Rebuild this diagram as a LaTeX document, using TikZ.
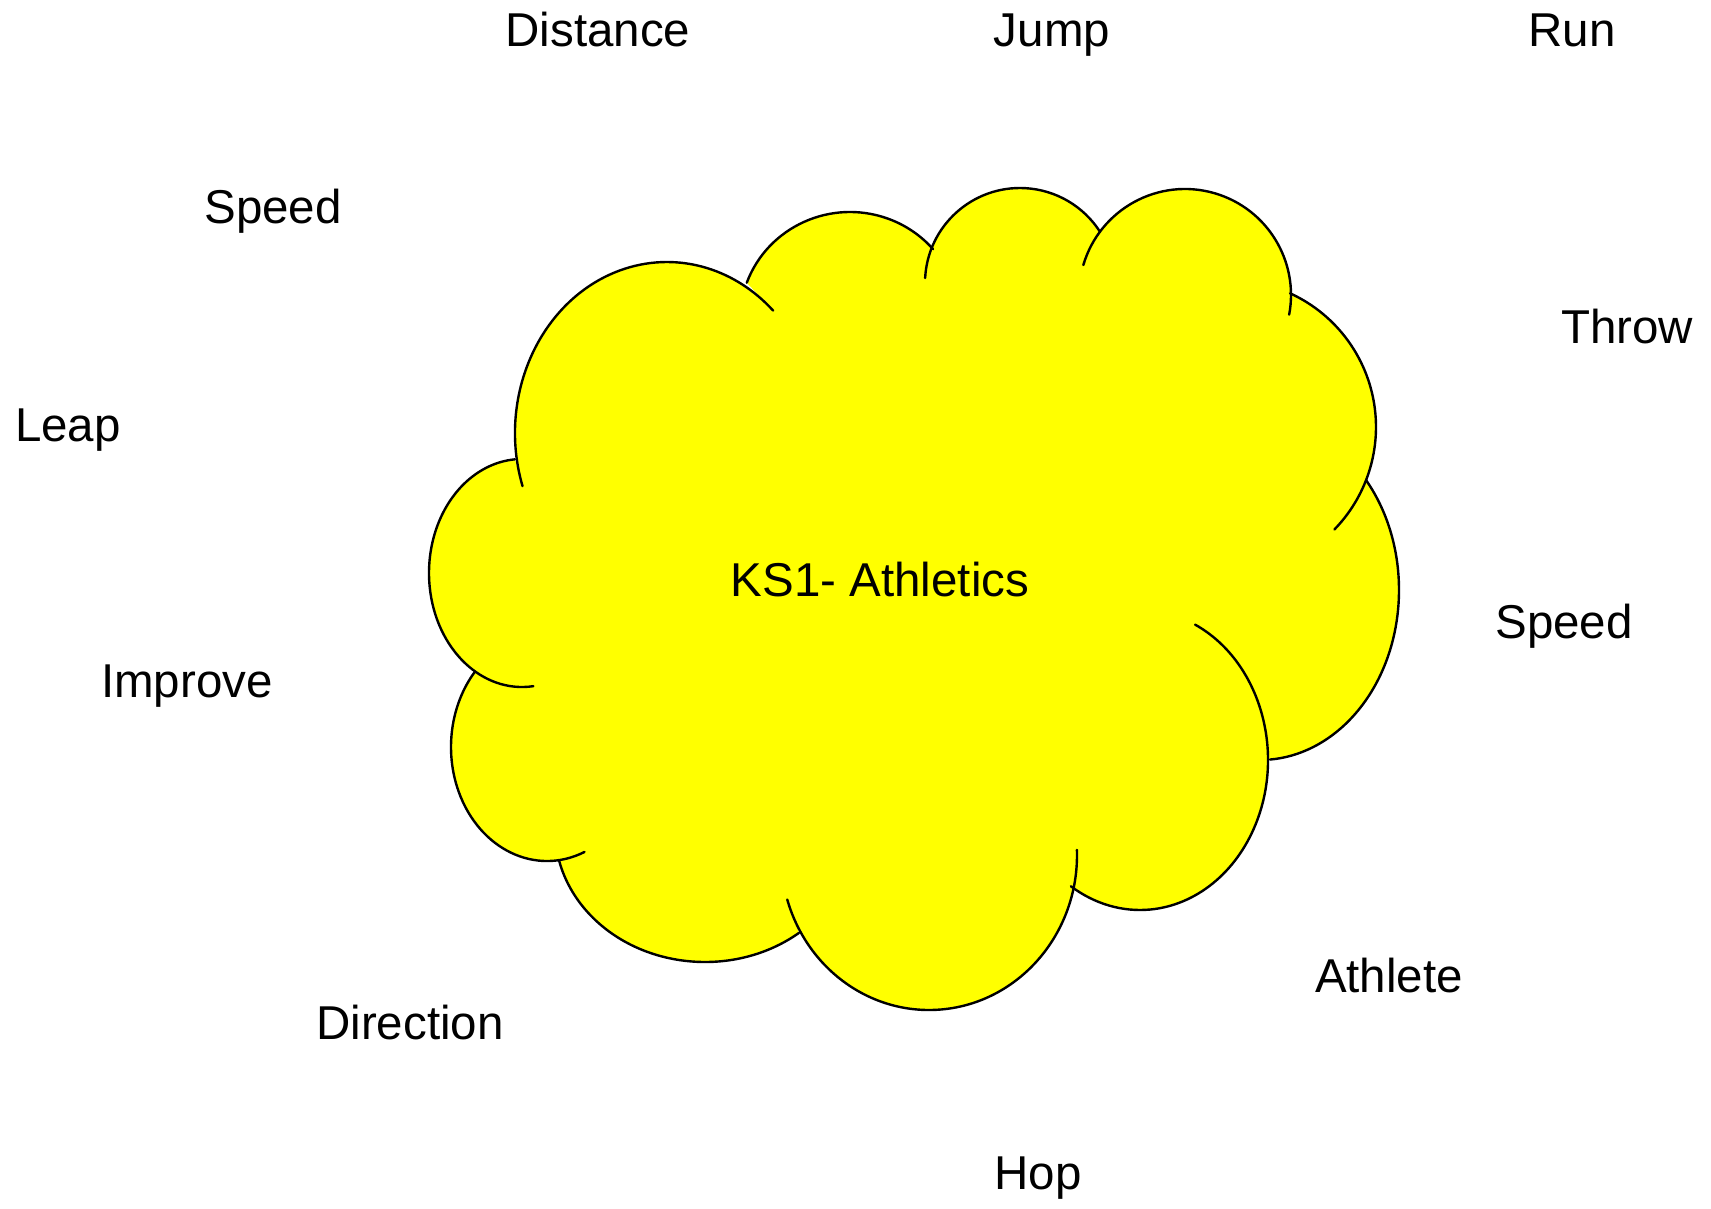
\documentclass[tikz,border=0pt]{standalone}
\usepackage{fontspec}
\setmainfont{Liberation Sans}
\definecolor{cloudyellow}{RGB}{255,255,0}
\tikzset{
  cloudfill/.style={fill=cloudyellow},
  cloudline/.style={draw=black, line width=2.4pt, line cap=round},
  word/.style={anchor=base, inner sep=0pt, font=\fontsize{47.5}{57}\selectfont, text=black}
}
\begin{document}
\begin{tikzpicture}[x=1pt, y=-1pt]
\useasboundingbox (0,0) rectangle (1711,1208);
\fill[white] (0,0) rectangle (1711,1208);
% lobes: centre x / centre y / x radius / y radius / start angle / end angle
\def\lobes{667/433/152/171/161.9/314.3, 850/320/110/108/200.2/319, 1020/283/95/95/183/327.4, 1185/295/106/106/196.4/370.7, 1229/427/147/147/294.5/404.2, 1260/590/139/170/319.7/445.9, 1140/760/128/150/-64.5/122.7, 929/855/148/155/-1.9/163.3, 705/830/150/132/51.2/166.8, 547/747/96/114/67/221.3, 522/573/93/114/83/265.6}
\fill[cloudfill] (523,486)
  \foreach \cx/\cy/\rx/\ry/\a/\b in \lobes {
    -- ({\cx+\rx*cos(\a)},{\cy+\ry*sin(\a)})
    arc[start angle=\a, end angle=\b, x radius=\rx, y radius=\ry]
  } -- cycle;
\foreach \cx/\cy/\rx/\ry/\a/\b in \lobes {
  \draw[cloudline] ({\cx+\rx*cos(\a)},{\cy+\ry*sin(\a)})
    arc[start angle=\a, end angle=\b, x radius=\rx, y radius=\ry];
}
\node[word] (title) at (880,596) {KS1- Athletics};
\node[word] (distance) at (598,46) {Distance};
\node[word] (jump) at (1052,46) {Jump};
\node[word] (run) at (1572,46) {Run};
\node[word] (speedA) at (273,223) {Speed};
\node[word] (throw) at (1627,343) {Throw};
\node[word] (leap) at (68,441) {Leap};
\node[word] (speedB) at (1564,638) {Speed};
\node[word] (improve) at (187,697) {Improve};
\node[word] (athlete) at (1389,992) {Athlete};
\node[word] (direction) at (410,1039) {Direction};
\node[word] (hop) at (1038,1189) {Hop};
\end{tikzpicture}
\end{document}
